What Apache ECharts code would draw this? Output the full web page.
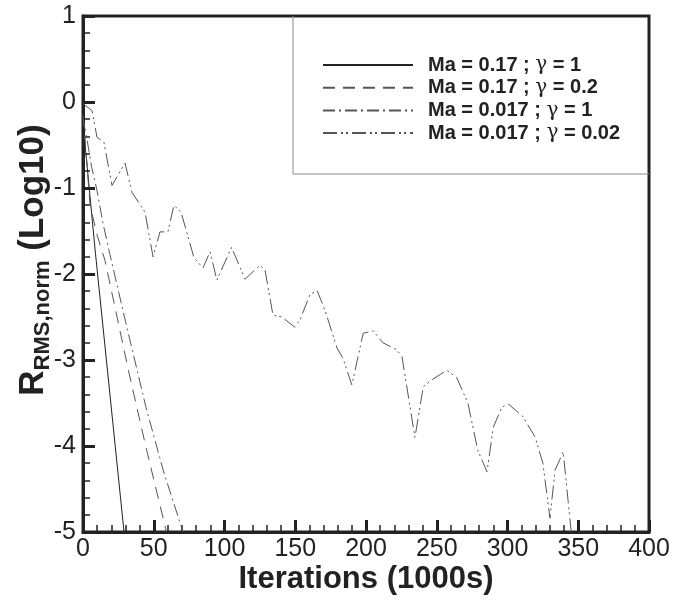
<!DOCTYPE html>
<html>
<head>
<meta charset="utf-8">
<script src="https://cdn.jsdelivr.net/npm/echarts@6/dist/echarts.min.js"></script>
<style>
html,body{margin:0;padding:0;background:#fff;}
#chart{width:686px;height:600px;}
</style>
</head>
<body>
<div id="chart"></div>
<script>
// ---- Data ----
var seriesNames = ['Ma = 0.17 ; γ = 1', 'Ma = 0.17 ; γ = 0.2', 'Ma = 0.017 ; γ = 1', 'Ma = 0.017 ; γ = 0.02'];

var solidX = [0, 1.5, 8.5, 29];
var solidY = [-0.1, -0.5, -1.71, -5];

var dashedX = [0, 2, 5, 10, 15.5, 32.5, 45, 59];
var dashedY = [-0.15, -0.55, -1.2, -1.55, -1.84, -3.15, -4.05, -5];

var dashDotX = [0, 3, 6, 9.8, 14, 19, 30, 44.5, 57, 70.7];
var dashDotY = [-0.2, -0.45, -0.75, -1.02, -1.4, -1.77, -2.55, -3.55, -4.3, -5];

var dashDotDotX = [0, 6.4, 9.9, 14.8, 20.5, 29.7, 34.6, 43.8, 49.5, 54.4, 60, 64.3, 69.3, 78.4, 84.8, 89.8, 94.6, 105, 114.5, 125, 128.6, 134.3, 140.6, 149.8, 153.4, 160.4, 165.4, 171, 179.5, 183.7, 190, 198, 205, 212, 221.7, 225.4, 234.6, 240.5, 246.6, 257, 264, 272, 279, 285.5, 290, 296, 300.5, 311, 319.6, 325, 330, 333.6, 339.4, 345];
var dashDotDotY = [-0.02, -0.1, -0.41, -0.47, -0.97, -0.71, -1.05, -1.28, -1.8, -1.51, -1.51, -1.2, -1.28, -1.81, -1.93, -1.74, -2.07, -1.69, -2.06, -1.9, -1.95, -2.48, -2.5, -2.62, -2.53, -2.24, -2.19, -2.42, -2.86, -2.98, -3.29, -2.69, -2.66, -2.8, -2.88, -2.96, -3.9, -3.31, -3.23, -3.12, -3.2, -3.5, -4.05, -4.3, -3.78, -3.55, -3.51, -3.66, -3.9, -4.2, -4.84, -4.28, -4.07, -5];

var xTicks = {min: 0, max: 400, step: 50};
var yTicks = {min: -5, max: 1, step: 1};

function pairs(xs, ys) { return xs.map(function (x, i) { return [x, ys[i]]; }); }

var FONT = 'Liberation Sans, Arial, sans-serif';
var AX = '#222';

var chart = echarts.init(document.getElementById('chart'), null, {renderer: 'canvas'});

function axisCommon(margin) {
  return {
    axisLine: {show: true, onZero: false, lineStyle: {color: AX, width: 3}},
    axisTick: {show: true, inside: true, length: 12, lineStyle: {color: AX, width: 3}},
    minorTick: {show: true, splitNumber: 5, length: 7, lineStyle: {color: AX, width: 1.5}},
    splitLine: {show: false},
    axisLabel: {color: AX, fontSize: 25, fontFamily: FONT, margin: margin}
  };
}

var xAxis = Object.assign(axisCommon(5), {
  type: 'value', min: xTicks.min, max: xTicks.max, interval: xTicks.step,
  name: 'Iterations (1000s)', nameLocation: 'middle', nameGap: 32, nameMoveOverlap: false,
  nameTextStyle: {color: AX, fontSize: 31, fontWeight: 'bold', fontFamily: FONT}
});
var yAxis = Object.assign(axisCommon(7), {
  type: 'value', min: yTicks.min, max: yTicks.max, interval: yTicks.step,
  name: '{r|R}{s|RMS,norm}{r| (Log10)}', nameLocation: 'middle', nameGap: 32, nameRotate: 90, nameMoveOverlap: false,
  nameTextStyle: {
    color: AX, fontFamily: FONT, padding: [0, 0, 0, 28],
    rich: {
      r: {fontSize: 35, fontWeight: 'bold', fontFamily: FONT, color: AX, lineHeight: 35, verticalAlign: 'top'},
      s: {fontSize: 22, fontWeight: 'bold', fontFamily: FONT, color: AX, lineHeight: 22, padding: [16, 0, 0, 0], verticalAlign: 'top'}
    }
  }
});

var styles = [
  {color: '#222', type: 'solid'},
  {color: '#555', type: [12, 8]},
  {color: '#555', type: [12, 4, 2, 4]},
  {color: '#555', type: [14, 4, 2, 3, 2, 4]}
];
var datas = [pairs(solidX, solidY), pairs(dashedX, dashedY), pairs(dashDotX, dashDotY), pairs(dashDotDotX, dashDotDotY)];

var series = seriesNames.map(function (n, i) {
  return {
    name: n, type: 'line', data: datas[i], symbol: 'none', smooth: false,
    lineStyle: {color: styles[i].color, width: 1, type: styles[i].type},
    itemStyle: {color: styles[i].color},
    clip: true, animation: false
  };
});

chart.setOption({
  animation: false,
  backgroundColor: '#fff',
  grid: {left: 83, right: 37, top: 16, bottom: 68, show: true, borderColor: AX, borderWidth: 3, backgroundColor: 'transparent'},
  xAxis: xAxis,
  yAxis: yAxis,
  legend: {
    show: true, orient: 'vertical', left: 322, top: 54, padding: 0,
    itemWidth: 90, itemHeight: 14, itemGap: 0.7,
    itemStyle: {opacity: 0},
    data: seriesNames,
    formatter: function (n) { return n.replace('γ', '{g|γ}'); },
    textStyle: {
      color: AX, fontSize: 20, fontWeight: 'bold', fontFamily: FONT, lineHeight: 22, padding: [0, 0, 0, 10],
      rich: {g: {fontSize: 20, fontFamily: 'DejaVu Serif, serif', fontWeight: 'normal', color: AX}}
    }
  },
  graphic: [{
    type: 'polyline', z: 1,
    shape: {points: [[293, 16], [293, 174], [649, 174]]},
    style: {stroke: '#888', lineWidth: 1, fill: null}
  }],
  series: series
});
</script>
</body>
</html>
